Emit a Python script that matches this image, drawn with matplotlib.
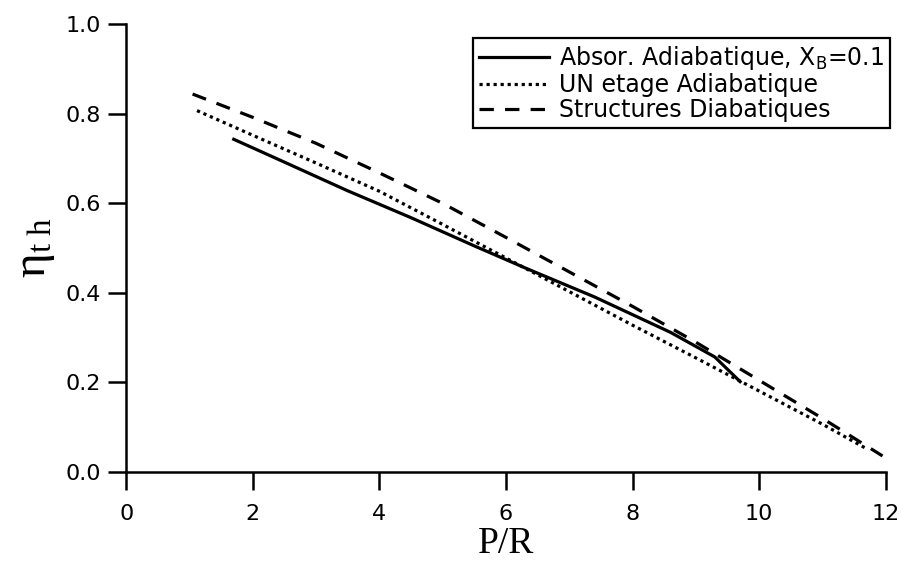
import matplotlib
matplotlib.use("Agg")
import matplotlib.pyplot as plt

# courbes
pr_absor = [1.7, 2.5, 3.5, 4.5, 5.5, 6.3, 7.4, 8.6, 9.3, 9.7]
eta_absor = [0.743, 0.692, 0.628, 0.568, 0.505, 0.456, 0.391, 0.312, 0.257, 0.202]

pr_un = [1.12, 2, 3, 4, 5, 6, 7, 8, 9, 10, 11, 11.7]
eta_un = [0.807, 0.752, 0.690, 0.627, 0.553, 0.478, 0.403, 0.328, 0.255, 0.181, 0.107, 0.052]

pr_struct = [1.05, 2, 3, 4, 5, 6, 7, 8, 9, 10, 11, 11.95]
eta_struct = [0.844, 0.792, 0.734, 0.668, 0.600, 0.524, 0.447, 0.370, 0.290, 0.205, 0.120, 0.036]

labels = [r'Absor. Adiabatique, X$\mathregular{_B}$=0.1',
          'UN etage Adiabatique',
          'Structures Diabatiques']

plt.rcParams['font.family'] = ['DejaVu Sans']
plt.rcParams['mathtext.fontset'] = 'stix'

fig = plt.figure(figsize=(9.01, 5.62), dpi=100)
ax = fig.add_axes([0.140, 0.160, 0.843, 0.797])

ax.plot(pr_absor, eta_absor, color='black', lw=2.3, label=labels[0])
ax.plot(pr_un, eta_un, color='black', lw=2.3, linestyle=(0, (1.0, 1.2)), label=labels[1])
ax.plot(pr_struct, eta_struct, color='black', lw=2.3, linestyle=(0, (4.5, 3.5)), label=labels[2])

ax.set_xlim(0, 12)
ax.set_ylim(0, 1.0)
ax.set_xticks(range(0, 13, 2))
ax.set_yticks([0.0, 0.2, 0.4, 0.6, 0.8, 1.0])
ax.set_yticklabels(['0.0', '0.2', '0.4', '0.6', '0.8', '1.0'])

ax.spines['top'].set_visible(False)
ax.spines['right'].set_visible(False)
for s in ['left', 'bottom']:
    ax.spines[s].set_linewidth(1.8)
ax.tick_params(direction='out', length=13, width=1.8, labelsize=16)
ax.tick_params(axis='x', pad=10)
ax.tick_params(axis='y', pad=5)

ax.set_xlabel('P/R', family='Liberation Serif', fontsize=27, labelpad=2)
ax.set_ylabel(r'η$\mathregular{_{t\ h}}$', family='Liberation Serif', fontsize=34, labelpad=6)

leg = ax.legend(loc='upper right', bbox_to_anchor=(890 / 901, 1 - 38 / 562),
                bbox_transform=fig.transFigure, borderaxespad=0, fancybox=False,
                edgecolor='black', fontsize=17, handlelength=3.0, handletextpad=0.4,
                labelspacing=0.05, borderpad=0.25, framealpha=1)
leg.get_frame().set_linewidth(1.6)

fig.savefig('out.png', dpi=100)
